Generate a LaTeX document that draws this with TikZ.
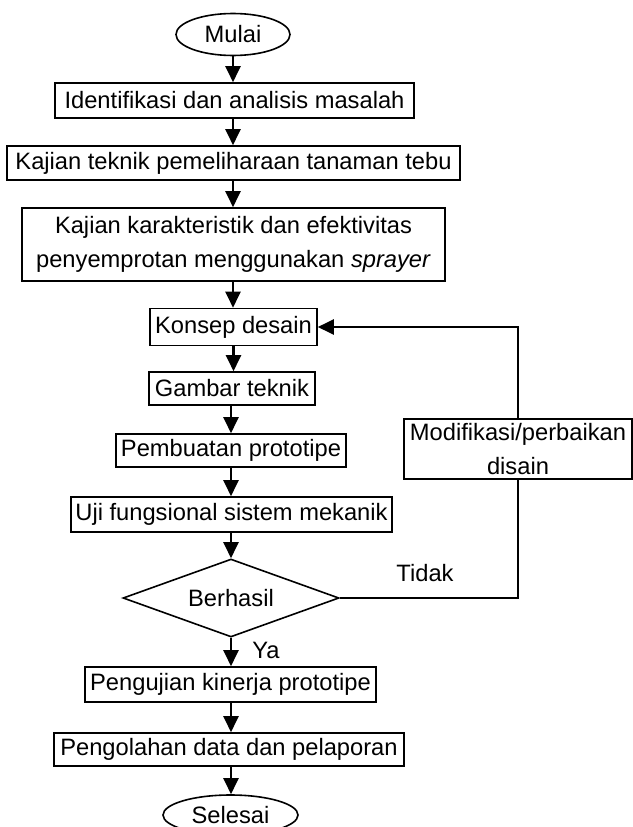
\documentclass[tikz,border=0pt]{standalone}
\usepackage{fontspec}
\setmainfont{Liberation Sans}
\usetikzlibrary{shapes.geometric,arrows.meta}
\begin{document}
\begin{tikzpicture}[x=1pt,y=1pt,
  every node/.style={font=\fontsize{23.7}{34}\selectfont, text=black},
  box/.style={draw, line width=1.6pt, rectangle, inner sep=0pt, align=center},
  term/.style={draw, line width=1.6pt, ellipse, inner sep=0pt},
  decide/.style={draw, line width=1.6pt, diamond, inner sep=0pt},
  arr/.style={line width=2.2pt, -{Triangle[length=16pt,width=15pt]}},
  ln/.style={line width=2.2pt},
  lbl/.style={inner sep=0pt}]
\useasboundingbox (0,0) rectangle (632,-827);
\node[term, minimum width=114pt, minimum height=42pt] (mulai) at (233,-34.5) {Mulai};
\node[box, minimum width=359pt, minimum height=35pt] (b1) at (234.5,-100.5) {Identifikasi dan analisis masalah};
\node[box, minimum width=453pt, minimum height=34pt] (b2) at (233.5,-163) {Kajian teknik pemeliharaan tanaman tebu};
\node[box, minimum width=423pt, minimum height=73pt] (b3) at (233.5,-244.5) {Kajian karakteristik dan efektivitas\\penyemprotan menggunakan \textit{sprayer}};
\node[box, minimum width=167pt, minimum height=37pt] (konsep) at (233.5,-327) {Konsep desain};
\node[box, minimum width=166pt, minimum height=33pt] (gambar) at (232,-388.5) {Gambar teknik};
\node[box, minimum width=230pt, minimum height=33pt] (buat) at (231,-450.5) {Pembuatan prototipe};
\node[box, minimum width=321pt, minimum height=35pt] (uji) at (231.5,-514.5) {Uji fungsional sistem mekanik};
\node[decide, minimum width=216pt, minimum height=78pt, aspect=2.77] (hasil) at (231,-598) {Berhasil};
\node[box, minimum width=291pt, minimum height=35pt] (kinerja) at (230.5,-684.5) {Pengujian kinerja prototipe};
\node[box, minimum width=350pt, minimum height=33pt] (olah) at (229,-749.5) {Pengolahan data dan pelaporan};
\node[term, minimum width=135pt, minimum height=40pt] (selesai) at (230.5,-815) {Selesai};
\node[box, minimum width=228pt, minimum height=60pt] (modif) at (518,-449) {Modifikasi/perbaikan\\disain};
\node[lbl] (tidak) at (425,-573) {Tidak};
\node[lbl] (ya) at (266,-650) {Ya};
\draw[arr] (mulai.south) -- (mulai.south |- b1.north);
\draw[arr] (b1.south -| mulai.south) -- (mulai.south |- b2.north);
\draw[arr] (b2.south -| mulai.south) -- (mulai.south |- b3.north);
\draw[arr] (b3.south -| mulai.south) -- (mulai.south |- konsep.north);
\draw[arr] (konsep.south) -- (konsep.south |- gambar.north);
\draw[arr] (gambar.south -| buat.north) -- (buat.north);
\draw[arr] (buat.south) -- (buat.south |- uji.north);
\draw[arr] (uji.south -| hasil.north) -- (hasil.north);
\draw[arr] (hasil.south) -- (hasil.south |- kinerja.north);
\draw[arr] (kinerja.south -| hasil.south) -- (hasil.south |- olah.north);
\draw[arr] (olah.south -| hasil.south) -- (hasil.south |- selesai.north);
\draw[ln] (hasil.east) -| (modif.south);
\draw[arr] (modif.north) |- (konsep.east);
\end{tikzpicture}
\end{document}
